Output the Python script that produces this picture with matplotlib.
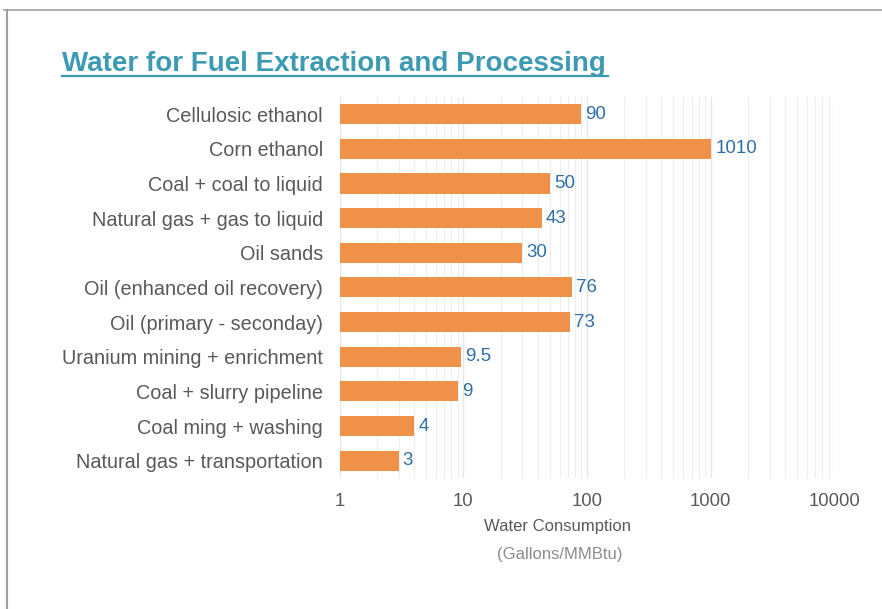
import matplotlib.pyplot as plt
from matplotlib.lines import Line2D
from matplotlib.ticker import LogLocator, FixedLocator, NullFormatter

plt.rcParams['font.family'] = ['Liberation Sans', 'DejaVu Sans']

categories = [
    "Cellulosic ethanol",
    "Corn ethanol",
    "Coal + coal to liquid",
    "Natural gas + gas to liquid",
    "Oil sands",
    "Oil (enhanced oil recovery)",
    "Oil (primary - seconday)",
    "Uranium mining + enrichment",
    "Coal + slurry pipeline",
    "Coal ming + washing",
    "Natural gas + transportation",
]
values = [90, 1010, 50, 43, 30, 76, 73, 9.5, 9, 4, 3]
value_labels = ["90", "1010", "50", "43", "30", "76", "73", "9.5", "9", "4", "3"]
x_ticks = [1, 10, 100, 1000, 10000]
x_tick_labels = ["1", "10", "100", "1000", "10000"]

BAR = "#f0914a"
LABEL_BLUE = "#2f6fa8"
GREY = "#595959"

fig = plt.figure(figsize=(8.82, 6.09), dpi=100)
ax = fig.add_axes([0.385, 0.215, 0.561, 0.626])

ypos = list(range(len(categories)))
ax.barh(ypos, values, height=0.58, color=BAR, left=0, zorder=3)
ax.set_xscale("log")
ax.set_xlim(1, 10000)
ax.set_ylim(len(categories) - 0.5, -0.5)

for y, v, lab in zip(ypos, values, value_labels):
    ax.text(v * 1.08, y, lab, va="center", ha="left", fontsize=13.5, color=LABEL_BLUE)

ax.set_yticks(ypos)
ax.set_yticklabels(categories, fontsize=14.3, color=GREY)
ax.xaxis.set_major_locator(FixedLocator(x_ticks))
ax.set_xticklabels(x_tick_labels, fontsize=13.3, color=GREY)
ax.xaxis.set_minor_locator(LogLocator(base=10, subs=range(2, 10)))
ax.xaxis.set_minor_formatter(NullFormatter())
ax.tick_params(axis="both", which="both", length=0)
ax.tick_params(axis="x", pad=11)
ax.tick_params(axis="y", pad=12)
ax.grid(axis="x", which="major", color="#e6e6e6", linewidth=1.0, zorder=0)
ax.grid(axis="x", which="minor", color="#eeeeee", linewidth=0.8, zorder=0)
for s in ax.spines.values():
    s.set_visible(False)

fig.text(558 / 882, 1 - 527 / 609, "Water Consumption", fontsize=12, color=GREY,
         ha="center", va="center")
fig.text(560 / 882, 1 - 555 / 609, "(Gallons/MMBtu)", fontsize=12, color="#8c8c8c",
         ha="center", va="center")

fig.text(62 / 882, 1 - 71 / 609, "Water for Fuel Extraction and Processing",
         fontsize=20, fontweight="bold", color="#3d9ab3", ha="left", va="baseline")
fig.add_artist(Line2D([62 / 882, 608 / 882], [1 - 76 / 609, 1 - 76 / 609],
                      color="#3d9ab3", linewidth=1.6))

# slide frame
fig.add_artist(Line2D([4 / 882, 1.0], [1 - 9.5 / 609, 1 - 9.5 / 609], color="#a0a0a0", linewidth=1.2))
fig.add_artist(Line2D([6.5 / 882, 6.5 / 882], [1 - 9.5 / 609, 0], color="#a0a0a0", linewidth=1.5))

fig.savefig("out.png", dpi=100)
